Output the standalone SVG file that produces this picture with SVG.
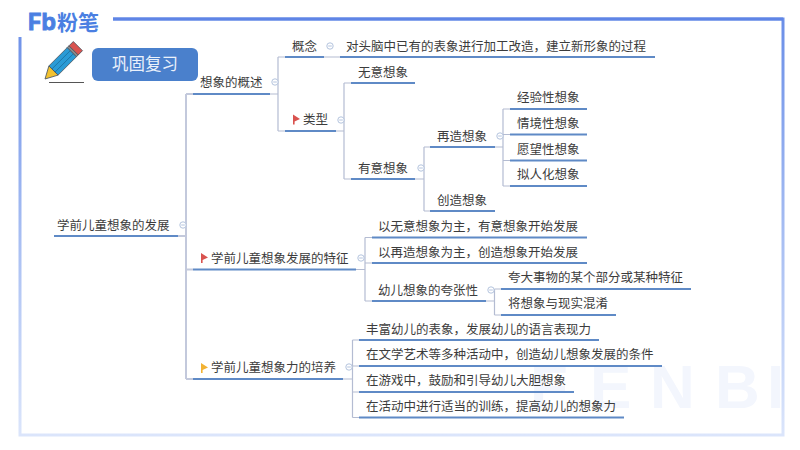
<svg xmlns="http://www.w3.org/2000/svg" width="800" height="450" viewBox="0 0 800 450">
<style>
text{font-family:"Noto Sans CJK SC","Liberation Sans",sans-serif;font-size:12.5px;fill:#3c3c3c}
.u{stroke:#5f8ac6;stroke-width:2;fill:none}
.c{stroke:#b4bcd2;stroke-width:1.2;fill:none}
.root{stroke:#c3c9dc;stroke-width:2;fill:none}
.tg{stroke:#b4c4de;stroke-width:1;fill:#fff}
.wm{font-family:"Liberation Sans",sans-serif;font-size:62px;font-weight:700;fill:#f3f6fd}
.logo{fill:#4a7fe2;font-weight:700;font-size:21px}
</style>
<defs>
<linearGradient id="fl" gradientUnits="userSpaceOnUse" x1="0" y1="19" x2="0" y2="435"><stop offset="0" stop-color="#6b8fe8"/><stop offset="0.5" stop-color="#a5bcf2"/><stop offset="1" stop-color="#dbe5fb"/></linearGradient>
<g id="t"><circle r="3.2" class="tg"/><path d="M-1.8 0H1.8" stroke="#b4c4de" stroke-width="1"/></g>
<path id="f" d="M0 0L7 4.5L1.6 7V10H0Z"/>
</defs>
<rect width="800" height="450" fill="#fff"/>
<g id="watermark"><text class="wm" x="530 590 650 715 767" y="408">FENBI</text></g>
<g id="frame">
<path d="M20 37V435H783V19H113" fill="none" stroke="url(#fl)" stroke-width="3"/>
<path d="M113 19H783" stroke="#5f85e6" stroke-width="3"/>
</g>
<g id="logo"><text class="logo" x="28" y="29.500" style="font-size:23px;font-family:'Inter','Liberation Sans',sans-serif;stroke:#4a7fe2;stroke-width:.8">Fb</text><text class="logo" x="57" y="30">粉笔</text></g>
<g id="pencil">
<path d="M49 82.500H84" stroke="#555" stroke-width="1"/>
<g transform="translate(45 79) rotate(-45)" stroke="#4a5560" stroke-width=".8">
<path d="M0 0L12 -6.500V6.500Z" fill="#f2c230"/>
<rect x="12" y="-6.500" width="26" height="13" fill="#2a9bd6"/>
<path d="M12 -2.200H38M12 2.200H38" stroke="#1c6f9e"/>
<rect x="38" y="-6.500" width="2.500" height="13" fill="#8a8a8a"/>
<rect x="40.500" y="-6.500" width="6" height="13" fill="#d9534f"/>
</g>
</g>
<g id="title"><rect x="92" y="48" width="106" height="33" rx="6" fill="#4a80cc"/><text x="145" y="70" text-anchor="middle" style="font-size:16.500px;fill:#eaf1fb">巩固复习</text></g>
<g id="connectors">
<path class="root" d="M178 236H186M186 94V379M186 94H193M186 269.500H193M186 379H193"/>
<path class="c" d="M270 94H278M278 57V131M278 57H285M278 131H285M324 57H340"/>
<path class="c" d="M336 131H344M344 83V179M344 83H351M344 179H351"/>
<path class="c" d="M415 179H424M424 147V211M424 147H430M424 211H430"/>
<path class="c" d="M495 147H503M503 109V186M503 109H510M503 134.500H510M503 160.500H510M503 186H510"/>
<path class="c" d="M356 269.500H365M365 237.500V301M365 237.500H372M365 263H372M365 301H372"/>
<path class="c" d="M486 301H494.500M494.500 289V315M494.500 289H501M494.500 315H501"/>
<path class="c" d="M343 379H352.500M352.500 340V417.500M352.500 340H359M352.500 366H359M352.500 392H359M352.500 417.500H359"/>
</g>
<g id="n-root"><text x="57" y="230">学前儿童想象的发展</text><path class="u" d="M54 236H178"/><use href="#t" x="183" y="225"/></g>
<g id="n-overview"><text x="200" y="87">想象的概述</text><path class="u" d="M193 94H270"/><use href="#t" x="275" y="82"/></g>
<g id="n-concept"><text x="292" y="50.500">概念</text><path class="u" d="M285 57H324"/><use href="#t" x="330" y="46"/></g>
<g id="n-definition"><text x="346" y="50.500">对头脑中已有的表象进行加工改造，建立新形象的过程</text><path class="u" d="M340 57H655"/></g>
<g id="n-type"><use href="#f" x="293" y="114.500" fill="#d9534f"/><text x="303" y="124">类型</text><path class="u" d="M285 131H336"/><use href="#t" x="341" y="120"/></g>
<g id="n-unintended"><text x="358" y="77">无意想象</text><path class="u" d="M351 83H415"/></g>
<g id="n-intended"><text x="358" y="173">有意想象</text><path class="u" d="M351 179H415"/><use href="#t" x="421" y="168"/></g>
<g id="n-recreate"><text x="437" y="141">再造想象</text><path class="u" d="M430 147H495"/><use href="#t" x="500" y="136"/></g>
<g id="n-create"><text x="437" y="205">创造想象</text><path class="u" d="M430 211H495"/></g>
<g id="n-exp"><text x="517" y="102">经验性想象</text><path class="u" d="M510 109H587"/></g>
<g id="n-sit"><text x="517" y="128">情境性想象</text><path class="u" d="M510 134.500H587"/></g>
<g id="n-wish"><text x="517" y="154">愿望性想象</text><path class="u" d="M510 160.500H587"/></g>
<g id="n-person"><text x="517" y="179">拟人化想象</text><path class="u" d="M510 186H587"/></g>
<g id="n-features"><use href="#f" x="201" y="253" fill="#d9534f"/><text x="211" y="262.500">学前儿童想象发展的特征</text><path class="u" d="M193 269.500H356"/><use href="#t" x="361" y="258"/></g>
<g id="n-f1"><text x="378" y="231">以无意想象为主，有意想象开始发展</text><path class="u" d="M372 237.500H587"/></g>
<g id="n-f2"><text x="378" y="257">以再造想象为主，创造想象开始发展</text><path class="u" d="M372 263H587"/></g>
<g id="n-f3"><text x="378" y="295">幼儿想象的夸张性</text><path class="u" d="M372 301H486"/><use href="#t" x="491" y="290"/></g>
<g id="n-f3a"><text x="508" y="282">夸大事物的某个部分或某种特征</text><path class="u" d="M501 289H691"/></g>
<g id="n-f3b"><text x="508" y="308">将想象与现实混淆</text><path class="u" d="M501 315H616"/></g>
<g id="n-cultivate"><use href="#f" x="201" y="363" fill="#f2b233"/><text x="211" y="372">学前儿童想象力的培养</text><path class="u" d="M193 379H343"/><use href="#t" x="349" y="367"/></g>
<g id="n-c1"><text x="366" y="334">丰富幼儿的表象，发展幼儿的语言表现力</text><path class="u" d="M359 340H599"/></g>
<g id="n-c2"><text x="366" y="359">在文学艺术等多种活动中，创造幼儿想象发展的条件</text><path class="u" d="M359 366H662"/></g>
<g id="n-c3"><text x="366" y="385">在游戏中，鼓励和引导幼儿大胆想象</text><path class="u" d="M359 392H574"/></g>
<g id="n-c4"><text x="366" y="411">在活动中进行适当的训练，提高幼儿的想象力</text><path class="u" d="M359 417.500H624"/></g>
</svg>
